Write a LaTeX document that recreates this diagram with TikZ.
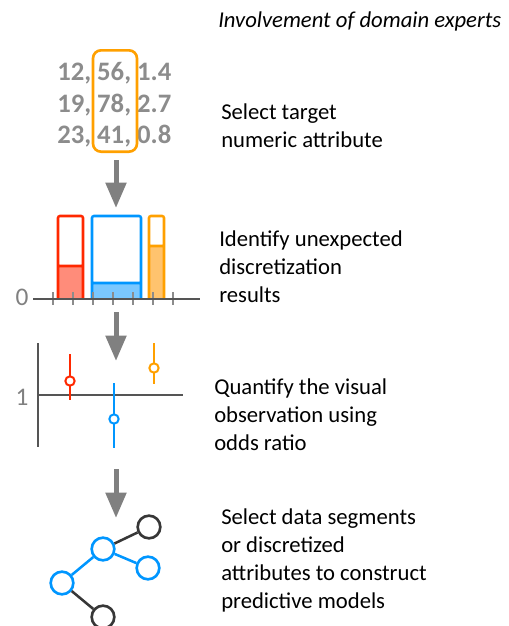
\documentclass[tikz,border=0pt]{standalone}
\usepackage{fontspec}
\setmainfont{Carlito}
\usetikzlibrary{arrows.meta}
\definecolor{redline}{RGB}{255,40,0}
\definecolor{redfill}{RGB}{255,140,122}
\definecolor{blueline}{RGB}{0,150,255}
\definecolor{bluefill}{RGB}{122,200,255}
\definecolor{orangeline}{RGB}{255,160,0}
\definecolor{orangefill}{RGB}{255,195,110}
\definecolor{numgray}{RGB}{140,140,140}
\definecolor{arrowgray}{RGB}{128,128,128}
\definecolor{axisgray}{RGB}{85,85,85}
\definecolor{nodegray}{RGB}{55,55,55}
\begin{document}
\begin{tikzpicture}[x=0.75pt,y=-0.75pt,
  txt/.style={anchor=base west,align=left,inner sep=0pt,font=\fontsize{17}{21}\selectfont},
  num/.style={anchor=base west,text=numgray,font=\fontsize{20}{24}\selectfont\bfseries,inner sep=0pt},
  down/.style={draw=arrowgray,line width=3.75pt,-{Triangle[width=15pt,length=19pt]}},
  axis/.style={draw=axisgray,line width=2.2pt},
  tick/.style={draw=numgray,line width=1pt},
  bar/.style={line width=1.9pt,rounded corners=1.5pt},
  odds/.style={line width=1.6pt},
  dot/.style={circle,fill=white,line width=1.5pt,inner sep=0pt,minimum size=7pt},
  seg/.style={circle,draw=blueline,line width=2pt,inner sep=0pt,minimum size=17pt},
  leaf/.style={circle,draw=nodegray,line width=2pt,inner sep=0pt,minimum size=17pt},
  edge/.style={line width=1.9pt}]
\useasboundingbox (0,0) rectangle (508,626);

\node[txt,font=\fontsize{17}{21}\selectfont\itshape] (title) at (218,27) {Involvement of domain experts};

% data table
\node[num] (r1) at (57,80) {12, 56, 1.4};
\node[num] (r2) at (57,112) {19, 78, 2.7};
\node[num] (r3) at (57,143) {23, 41, 0.8};
\node[draw=orangeline,line width=2pt,rounded corners=6pt,minimum width=33pt,minimum height=76pt] (col) at (115,101) {};
\node[txt] (t1) at (221,147) {Select target\\numeric attribute};

\coordinate (a1s) at (116,160);
\coordinate (a1e) at (116,208);
\draw[down] (a1s) -- (a1e);

% histogram
\fill[redfill] (58,266) rectangle (83,298);
\fill[bluefill] (92,283) rectangle (141,298);
\fill[orangefill] (149,246) rectangle (164,298);
\draw[bar,draw=redline] (58,298) -- (58,216) -- (83,216) -- (83,298) (58,266) -- (83,266);
\draw[bar,draw=blueline] (92,298) -- (92,216) -- (141,216) -- (141,298) (92,283) -- (141,283);
\draw[bar,draw=orangeline] (149,298) -- (149,216) -- (164,216) -- (164,298) (149,246) -- (164,246);
\foreach \x in {53,73,...,173}
\draw[tick] (\x,292) -- (\x,305);
\draw[axis] (33,299) -- (200,299);
\node[text=arrowgray,font=\fontsize{19}{23}\selectfont] (zero) at (22,297) {0};
\node[txt] (t2) at (219,302) {Identify unexpected\\discretization\\results};

\coordinate (a2s) at (116,312);
\coordinate (a2e) at (116,361);
\draw[down] (a2s) -- (a2e);

% odds ratios
\draw[axis] (38,343) -- (38,447);
\draw[axis] (38,395) -- (183,395);
\node[text=arrowgray,font=\fontsize{19}{23}\selectfont] (one) at (22,397) {1};
\draw[odds,draw=redline] (70,354) -- (70,400);
\node[dot,draw=redline] (o1) at (70,381) {};
\draw[odds,draw=blueline] (114,383) -- (114,448);
\node[dot,draw=blueline] (o2) at (114,419) {};
\draw[odds,draw=orangeline] (154,343) -- (154,384);
\node[dot,draw=orangeline] (o3) at (154,368) {};
\node[txt] (t3) at (214,450) {Quantify the visual\\observation using\\odds ratio};

\coordinate (a3s) at (116,469);
\coordinate (a3e) at (116,518);
\draw[down] (a3s) -- (a3e);

% model
\node[leaf] (n1) at (149,527) {};
\node[seg] (n2) at (103,549) {};
\node[seg] (n3) at (148,568) {};
\node[seg] (n4) at (62,583) {};
\node[leaf] (n5) at (103,617) {};
\draw[edge,draw=nodegray] (n2) -- (n1);
\draw[edge,draw=blueline] (n2) -- (n3);
\draw[edge,draw=blueline] (n2) -- (n4);
\draw[edge,draw=nodegray] (n4) -- (n5);
\node[txt] (t4) at (221,608) {Select data segments\\or discretized\\attributes to construct\\predictive models};
\end{tikzpicture}
\end{document}
